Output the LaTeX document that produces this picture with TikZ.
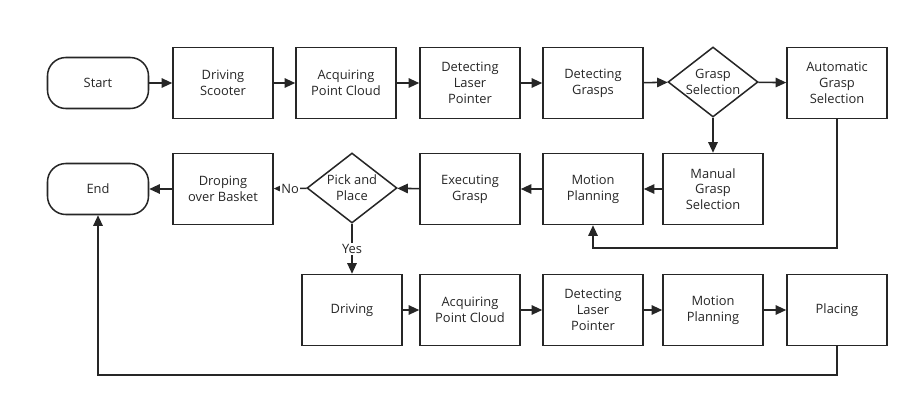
\documentclass[tikz,border=0pt]{standalone}
\usepackage{fontspec}
\setmainfont{Open Sans}
\usepackage{tikz}
\usetikzlibrary{calc,positioning,arrows,arrows.meta,shapes}

\begin{document}
\begin{tikzpicture}[x=0.03cm, y=-0.03cm, line width=1.3pt, color=black!85,
                    >={Triangle[length=9pt,width=8pt]}]
\tikzstyle{every node}=[font=\fontsize{11}{13.5}\selectfont, align=center]
\tikzstyle{box}=[rectangle, draw, minimum width=3cm,
                 minimum height=2.13cm, inner sep=2pt]
\tikzstyle{term}=[rectangle, draw, rounded corners=0.55cm,
                  minimum width=3.03cm, minimum height=1.53cm]
\tikzstyle{dec}=[diamond, draw, aspect=1.3, inner sep=-6pt,
                 minimum width=2.7cm, minimum height=2.1cm]
\tikzstyle{lbl}=[fill=white, inner sep=1pt]
\useasboundingbox (0,0) rectangle (919,406);
% first row
\node[term] (S) at (98,83) {Start};
\node[box] (A) at (223,83) {Driving\\Scooter};
\node[box] (B) at (346,83) {Acquiring\\Point Cloud};
\node[box] (C) at (470,83) {Detecting\\Laser\\Pointer};
\node[box] (D) at (593,83) {Detecting\\Grasps};
\node[dec] (G) at (713,82) {Grasp\\Selection};
\node[box] (H) at (837,83) {Automatic\\Grasp\\Selection};
% second row
\node[term] (E) at (98,189) {End};
\node[box] (K) at (223,189) {Droping\\over Basket};
\node[dec] (Q) at (352,188) {Pick and\\Place};
\node[box] (X) at (470,189) {Executing\\Grasp};
\node[box] (P) at (593,189) {Motion\\Planning};
\node[box] (M) at (713,189) {Manual\\Grasp\\Selection};
% third row
\node[box] (R) at (352,310) {Driving};
\node[box] (T) at (470,310) {Acquiring\\Point Cloud};
\node[box] (U) at (593,310) {Detecting\\Laser\\Pointer};
\node[box] (V) at (713,310) {Motion\\Planning};
\node[box] (W) at (837,310) {Placing};
\coordinate (r1) at (593,248);
\coordinate (r2) at (98,375);
\draw[->] (S) -- (A);
\draw[->] (A) -- (B);
\draw[->] (B) -- (C);
\draw[->] (C) -- (D);
\draw[->] (D) -- (G);
\draw[->] (G) -- (H);
\draw[->] (G) -- (M);
\draw[->] (H.south) |- (r1) -- (P.south);
\draw[->] (M) -- (P);
\draw[->] (P) -- (X);
\draw[->] (X) -- (Q);
\draw[->] (Q) -- node[lbl] {No} (K);
\draw[->] (K) -- (E);
\draw[->] (Q) -- node[lbl] {Yes} (R);
\draw[->] (R) -- (T);
\draw[->] (T) -- (U);
\draw[->] (U) -- (V);
\draw[->] (V) -- (W);
\draw[->] (W.south) |- (r2) -- (E.south);
\end{tikzpicture}
\end{document}
